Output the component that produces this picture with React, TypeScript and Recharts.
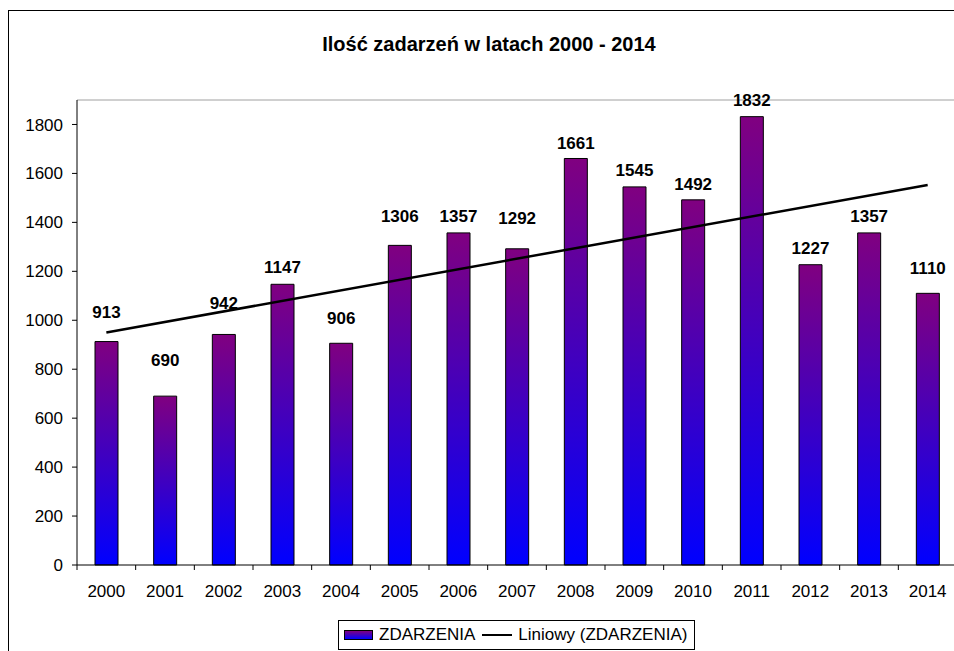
import { ComposedChart, Bar, Line, XAxis, YAxis, ReferenceLine, LabelList } from 'recharts';

const FONT = '"Liberation Sans", Arial, sans-serif';

const years = ['2000', '2001', '2002', '2003', '2004', '2005', '2006', '2007', '2008', '2009', '2010', '2011', '2012', '2013', '2014'];
const counts = [913, 690, 942, 1147, 906, 1306, 1357, 1292, 1661, 1545, 1492, 1832, 1227, 1357, 1110];
// trend line at its two ends
const trend = [950, null, null, null, null, null, null, null, null, null, null, null, null, null, 1553];
const yTicks = [0, 200, 400, 600, 800, 1000, 1200, 1400, 1600, 1800];

// labels were moved by hand in the original, so each one has its own lift (px)
const labelLift = [24, 30, 25, 11, 19, 23, 11, 25, 9, 11, 10, 10.5, 10.5, 11, 19];

const W = 960;
const H = 650;
const M = { top: 89, right: 12, bottom: 66, left: 0 };
const YW = 68;
const XH = 30;
const PLOT_BOTTOM = H - M.bottom - XH;
const STEP = (W - M.left - M.right - YW) / years.length;

const data = years.map((year, i) => ({ year, count: counts[i], trend: trend[i] }));

function YearTick(props: any) {
  const { x, payload, index } = props;
  return (
    <g>
      <line x1={x - STEP / 2} x2={x - STEP / 2} y1={PLOT_BOTTOM} y2={PLOT_BOTTOM + 5} stroke="#000" />
      {index === years.length - 1 && (
        <line x1={x + STEP / 2} x2={x + STEP / 2} y1={PLOT_BOTTOM} y2={PLOT_BOTTOM + 5} stroke="#000" />
      )}
      <text x={x} y={PLOT_BOTTOM + 32} textAnchor="middle" fontSize={17} fontFamily={FONT} fill="#000">
        {payload.value}
      </text>
    </g>
  );
}

function ValueLabel(props: any) {
  const { x, y, width, value, index } = props;
  return (
    <text x={x + width / 2} y={y - labelLift[index]} textAnchor="middle" fontSize={17} fontWeight="bold" fontFamily={FONT} fill="#000">
      {value}
    </text>
  );
}

export default function App() {
  return (
    <div style={{ position: 'fixed', left: 0, top: 0, width: 954, height: 651, overflow: 'hidden', fontFamily: FONT, background: '#fff' }}>
      <div style={{ position: 'absolute', left: 8, top: 10, width: 962, height: 680, border: '1px solid #000', boxSizing: 'border-box', background: '#fff' }}>
        <div style={{ position: 'absolute', left: 0, top: 23, width: 960, textAlign: 'center', fontSize: 20, lineHeight: '20px', fontWeight: 'bold' }}>
          Ilość zadarzeń w latach 2000 - 2014
        </div>

        <ComposedChart width={W} height={H} data={data} margin={M} style={{ position: 'absolute', left: 0, top: 0 }}>
          <defs>
            <linearGradient id="barFill" x1="0" y1="0" x2="0" y2="1">
              <stop offset="0" stopColor="#800080" />
              <stop offset="1" stopColor="#0000ff" />
            </linearGradient>
          </defs>
          <XAxis dataKey="year" height={XH} axisLine={{ stroke: '#000' }} tickLine={false} tick={<YearTick />} interval={0} />
          <YAxis
            width={YW}
            domain={[0, 1900]}
            ticks={yTicks}
            axisLine={{ stroke: '#000' }}
            tickLine={{ stroke: '#000' }}
            tickSize={5}
            tickMargin={9}
            tick={{ fontSize: 17, fill: '#000', fontFamily: FONT }}
          />
          <ReferenceLine y={1900} stroke="#a0a0a0" />
          <Bar dataKey="count" fill="url(#barFill)" stroke="#000" strokeWidth={1} barSize={23} isAnimationActive={false}>
            <LabelList dataKey="count" content={<ValueLabel />} />
          </Bar>
          <Line dataKey="trend" stroke="#000" strokeWidth={2.5} dot={false} connectNulls isAnimationActive={false} />
        </ComposedChart>

        <div
          style={{
            position: 'absolute',
            left: 329,
            top: 609,
            width: 357,
            height: 30,
            border: '1px solid #000',
            boxSizing: 'border-box',
            display: 'flex',
            alignItems: 'center',
            paddingLeft: 5,
            fontSize: 17,
            whiteSpace: 'nowrap',
          }}
        >
          <span style={{ width: 29, height: 10, border: '1px solid #000', boxSizing: 'border-box', background: 'linear-gradient(#800080, #0000ff)' }} />
          <span style={{ marginLeft: 6 }}>ZDARZENIA</span>
          <span style={{ width: 30, height: 2, background: '#000', marginLeft: 7 }} />
          <span style={{ marginLeft: 6 }}>Liniowy (ZDARZENIA)</span>
        </div>
      </div>
    </div>
  );
}
